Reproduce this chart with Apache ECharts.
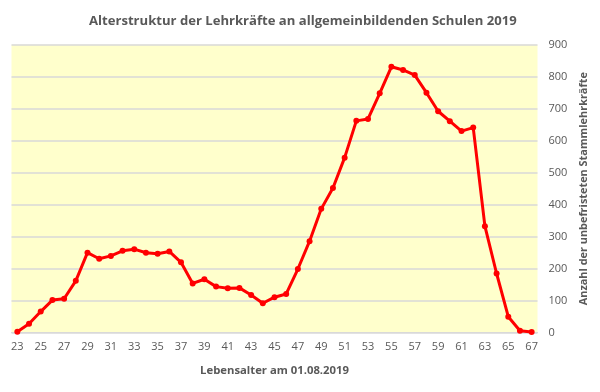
<!DOCTYPE html>
<html>
<head>
<meta charset="utf-8">
<script src="https://cdn.jsdelivr.net/npm/echarts@6/dist/echarts.min.js"></script>
<style>html,body{margin:0;padding:0;background:#fff;}#c{width:600px;height:392px;}</style>
</head>
<body>
<div id="c"></div>
<script>
const ages = [23,24,25,26,27,28,29,30,31,32,33,34,35,36,37,38,39,40,41,42,43,44,45,46,47,48,49,50,51,52,53,54,55,56,57,58,59,60,61,62,63,64,65,66,67];
const teachers = [3,28,66,102,106,162,250,231,240,256,261,250,247,254,220,154,167,144,139,140,118,92,111,121,199,286,387,452,547,662,668,748,831,821,805,750,692,661,630,641,333,185,50,6,2];
const yTicks = {min: 0, max: 900, interval: 100};
const titleText = 'Alterstruktur der Lehrkräfte an allgemeinbildenden Schulen 2019';
const xName = 'Lebensalter am 01.08.2019';
const yName = 'Anzahl der unbefristeten Stammlehrkräfte';

const font = '"Open Sans", "Noto Sans", sans-serif';
const chart = echarts.init(document.getElementById('c'), null, {renderer: 'canvas'});
chart.setOption({
  animation: false,
  backgroundColor: '#ffffff',
  title: {
    text: titleText, left: 84, top: 10,
    textStyle: {fontFamily: font, fontSize: 13.1, fontWeight: 'bold', color: '#595959'}
  },
  grid: {left: 11.5, right: 62.5, top: 44.7, bottom: 59.3, show: true, backgroundColor: '#FFFFCC', borderWidth: 0},
  xAxis: {
    type: 'category', data: ages.map(String), boundaryGap: true,
    name: xName, nameLocation: 'middle', nameGap: 33,
    nameTextStyle: {fontFamily: font, fontSize: 11.3, fontWeight: 'bold', color: '#595959'},
    axisLine: {show: true, lineStyle: {color: '#D9D9D9', width: 1}},
    axisTick: {show: false},
    axisLabel: {interval: 1, fontFamily: font, fontSize: 11, color: '#595959', margin: 9}
  },
  yAxis: {
    type: 'value', position: 'right', min: yTicks.min, max: yTicks.max, interval: yTicks.interval,
    name: yName, nameLocation: 'middle', nameRotate: 90, nameGap: 35,
    nameTextStyle: {fontFamily: font, fontSize: 10.9, fontWeight: 'bold', color: '#595959'},
    axisLine: {show: false}, axisTick: {show: false},
    axisLabel: {fontFamily: font, fontSize: 11, color: '#595959', margin: 11},
    splitLine: {lineStyle: {color: '#D9D9D9', width: 1.5}}
  },
  series: [{
    type: 'line', data: teachers,
    symbol: 'circle', symbolSize: 6,
    lineStyle: {color: '#FF0000', width: 3},
    itemStyle: {color: '#FF0000'}
  }]
});
</script>
</body>
</html>
